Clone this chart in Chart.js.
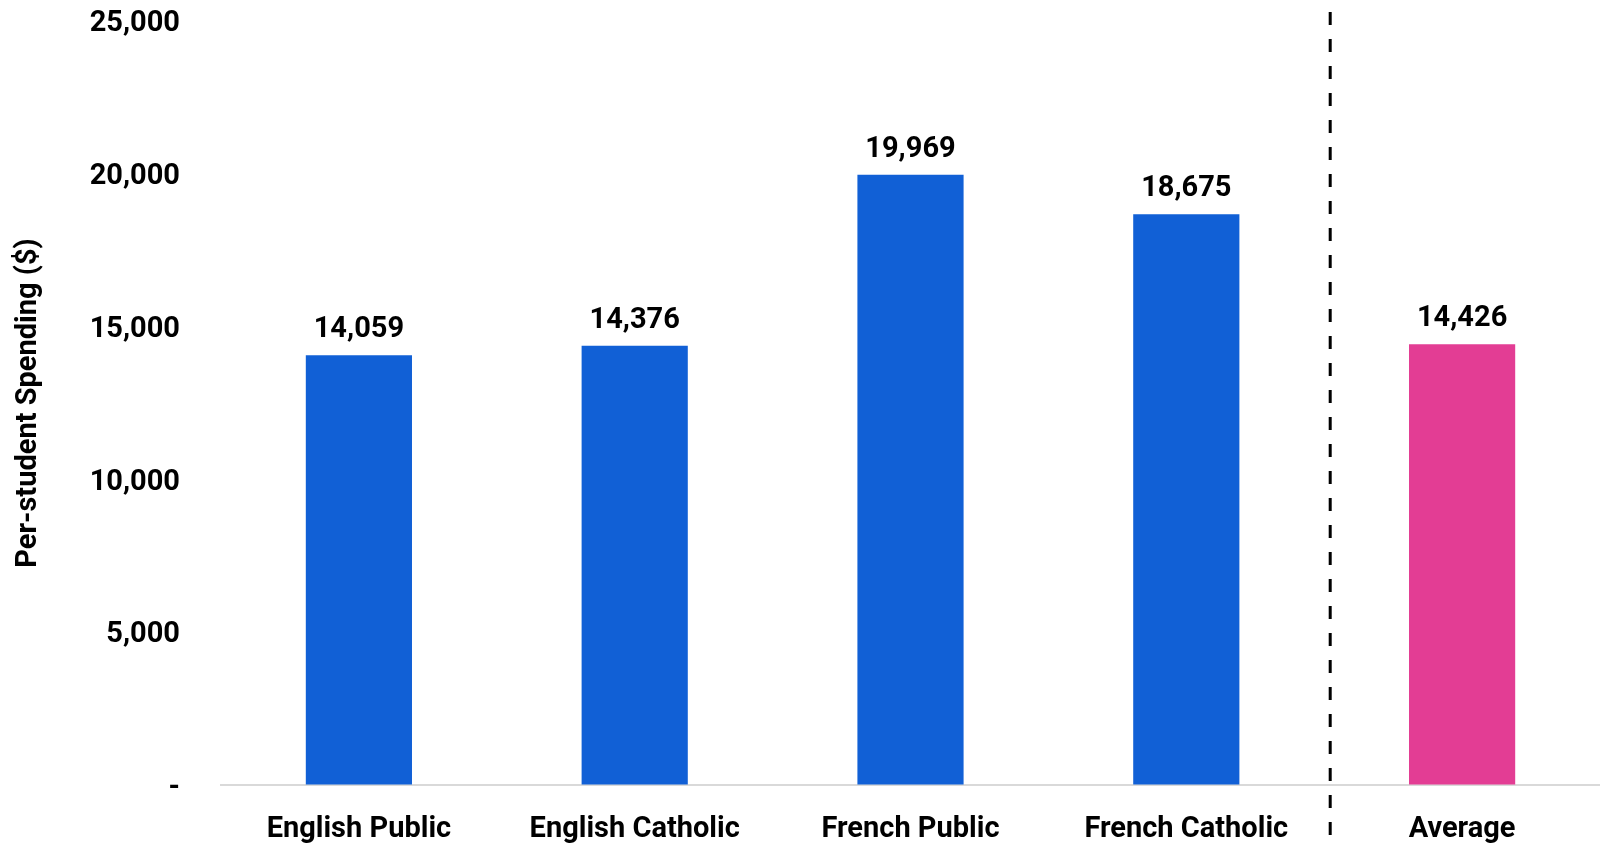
<!DOCTYPE html>
<html lang="en">
  <head>
    <meta charset="UTF-8" />
    <title>Per-student Spending</title>
    <style>
      html, body { margin: 0; padding: 0; background: #fff; }
      .container { width: 1600px; height: 845px; }
    </style>
  </head>
  <body>
    <div class="container">
      <canvas id="myChart" width="1600" height="845"></canvas>
    </div>
    <script src="https://cdn.jsdelivr.net/npm/chart.js@4.4.1/dist/chart.umd.min.js"></script>
    <script>
      const categories = ["English Public", "English Catholic", "French Public", "French Catholic", "Average"];
      const spending = [14059, 14376, 19969, 18675, 14426];
      const barColors = ["#1160D6", "#1160D6", "#1160D6", "#1160D6", "#E33D94"];
      const yTicks = [0, 5000, 10000, 15000, 20000, 25000];

      const font = "Roboto, 'Liberation Sans', Arial, sans-serif";

      // numbers above each bar
      const valueLabels = {
        id: "valueLabels",
        afterDatasetsDraw(chart) {
          const ctx = chart.ctx;
          const meta = chart.getDatasetMeta(0);
          ctx.save();
          ctx.font = "bold 29px " + font;
          ctx.fillStyle = "#000";
          ctx.textAlign = "center";
          ctx.textBaseline = "alphabetic";
          meta.data.forEach((bar, i) => {
            ctx.fillText(spending[i].toLocaleString("en-US"), bar.x, bar.y - 18);
          });
          ctx.restore();
        },
      };

      // dashed separator before the average bar
      const separator = {
        id: "separator",
        afterDraw(chart) {
          const x = chart.scales.x;
          const px = (x.getPixelForValue(3) + x.getPixelForValue(4)) / 2 + 6;
          const ctx = chart.ctx;
          ctx.save();
          ctx.strokeStyle = "#000";
          ctx.lineWidth = 3;
          ctx.setLineDash([13, 14]);
          ctx.beginPath();
          ctx.moveTo(px, 12);
          ctx.lineTo(px, 845);
          ctx.stroke();
          ctx.restore();
        },
      };

      const ctx = document.getElementById("myChart").getContext("2d");
      const myChart = new Chart(ctx, {
        type: "bar",
        data: {
          labels: categories,
          datasets: [
            {
              data: spending,
              backgroundColor: barColors,
              barPercentage: 0.385,
              categoryPercentage: 1,
            },
          ],
        },
        options: {
          responsive: false,
          animation: false,
          layout: { padding: { top: 21, right: 0, bottom: 0, left: 0 } },
          plugins: { legend: { display: false }, tooltip: { enabled: false } },
          scales: {
            x: {
              afterFit(scale) { scale.height = 60; },
              grid: { display: false, drawTicks: false },
              border: { display: true, color: "#d9d9d9", width: 2 },
              ticks: {
                color: "#000",
                padding: 27,
                maxRotation: 0,
                autoSkip: false,
                font: { family: font, size: 29, weight: "bold" },
              },
            },
            y: {
              min: 0,
              max: 25000,
              afterFit(scale) { scale.width = 221; },
              afterBuildTicks(scale) { scale.ticks = yTicks.map((v) => ({ value: v })); },
              // invisible tick marks push the labels away from the plot
              grid: { display: true, drawOnChartArea: false, drawTicks: true, tickLength: 39, color: "rgba(0,0,0,0)" },
              border: { display: false },
              ticks: {
                color: "#000",
                padding: 2,
                labelOffset: 3,
                font: { family: font, size: 29, weight: "bold" },
                callback: (v) => (v === 0 ? "-" : v.toLocaleString("en-US")),
              },
              title: {
                display: true,
                text: "Per-student Spending ($)",
                color: "#000",
                padding: { top: 11, bottom: 0 },
                font: { family: font, size: 29, weight: "bold" },
              },
            },
          },
        },
        plugins: [valueLabels, separator],
      });
    </script>
  </body>
</html>
